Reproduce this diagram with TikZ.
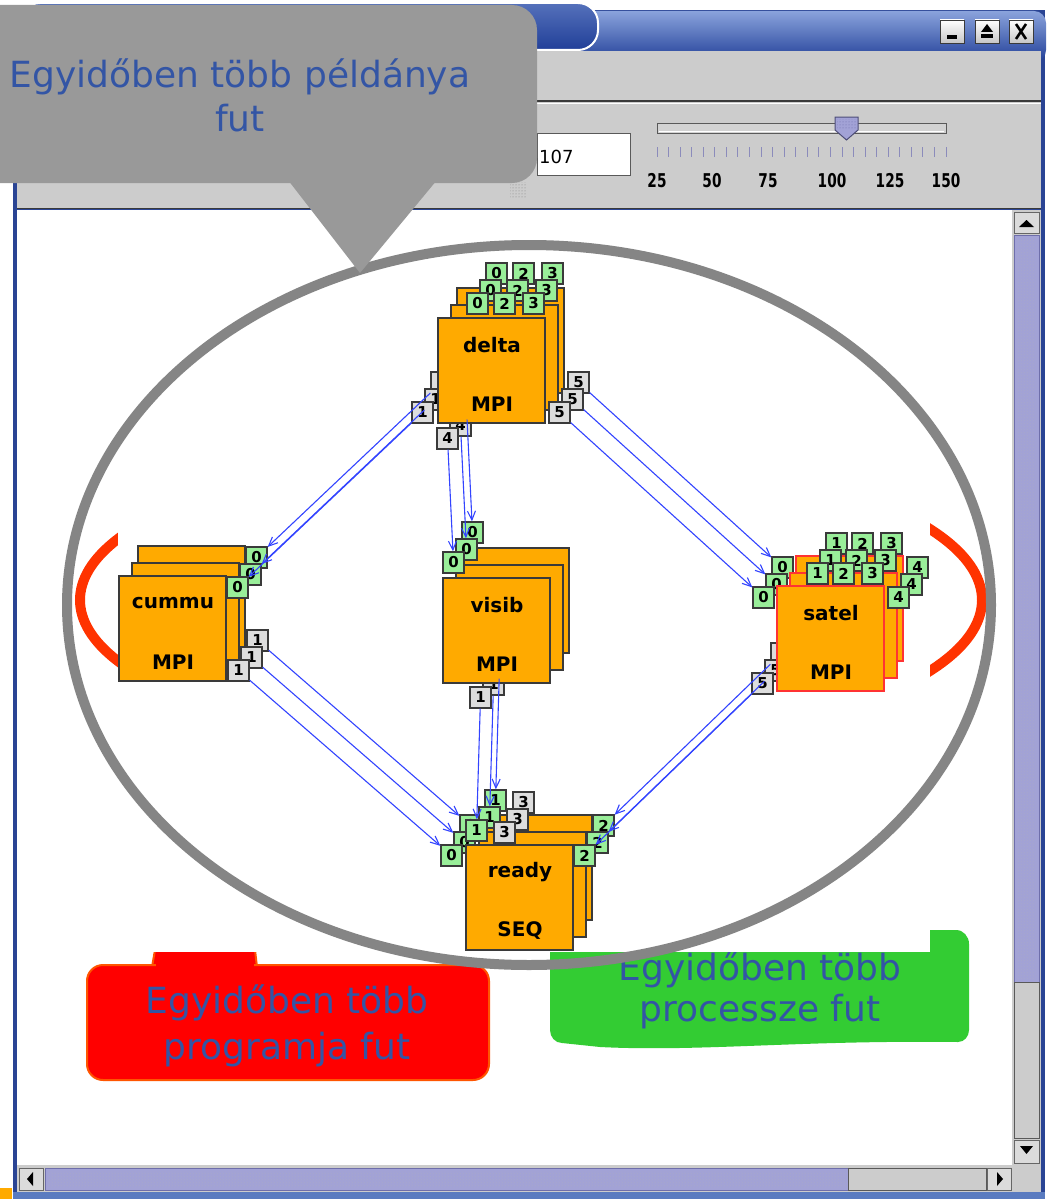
\documentclass[tikz,border=0pt]{standalone}
\usepackage{fontspec}
\usepackage{graphicx}
\setmainfont{DejaVu Sans}
\usetikzlibrary{arrows.meta,patterns}
\definecolor{callgray}{HTML}{999999}
\definecolor{txtblue}{HTML}{3355A5}
\definecolor{tbdark}{HTML}{213F98}
\definecolor{tblight}{HTML}{8AA3DC}
\definecolor{tabtop}{HTML}{5571BB}
\definecolor{panel}{HTML}{CCCCCC}
\definecolor{orng}{HTML}{FFAA00}
\definecolor{pgreen}{HTML}{99EE99}
\definecolor{pgray}{HTML}{DDDDDD}
\definecolor{edge}{HTML}{3A3A3A}
\definecolor{selred}{HTML}{FF3333}
\definecolor{arrblue}{HTML}{3344FF}
\definecolor{callred}{HTML}{FF0000}
\definecolor{callredb}{HTML}{FF5500}
\definecolor{callgreen}{HTML}{33CC33}
\definecolor{ellgray}{HTML}{858585}
\definecolor{ellred}{HTML}{FF3300}
\definecolor{lav}{HTML}{A2A2D6}
\definecolor{lavb}{HTML}{6E6EAA}
\definecolor{winedge}{HTML}{2A4494}
\definecolor{strip}{HTML}{5A7BC0}
\tikzset{
  procbox/.style={draw=edge, fill=orng, line width=1.5pt, minimum width=107pt, minimum height=105pt, inner sep=0pt},
  port/.style={draw=edge, line width=1.3pt, minimum size=21pt, inner sep=0pt, font=\fontsize{15}{15}\selectfont\bfseries},
  plbl/.style={font=\fontsize{20}{20}\selectfont\bfseries, inner sep=0pt},
  conn/.style={arrblue, line width=1.1pt, -{Straight Barb[length=9pt,width=8pt]}},
  calltxt/.style={txtblue, font=\fontsize{36}{36}\selectfont, anchor=base, inner sep=0pt},
  sbtn/.style={fill=panel!70!white, draw=gray!80!black, line width=0.8pt},
  thumb/.style={fill=lav, draw=lavb, line width=1pt},
  tbtn/.style={top color=white, bottom color=gray!45, draw=edge, line width=0.8pt},
  slbl/.style={font=\fontsize{19}{19}\selectfont\bfseries, inner sep=0pt},
}
% #1 name, #2 x, #3 y (front top-left), #4 border, #5 ports, #6 name label, #7 type label
\newcommand\procnode[7]{%
  \foreach \ddx/\ddy/\lay in {19/-30/2,13/-13/1,0/0/0}{%
    \begin{scope}[shift={(\ddx,\ddy)}]
      \node[procbox,draw=#4] (#1-sq-\lay) at (#2+53.5,#3+52.5) {};
      \foreach \ppx/\ppy/\pcol/\pname in {#5}{%
        \node[port,fill=\pcol] (#1-\pname-\lay) at (\ppx+10.5,\ppy+10.5) {\pname};
      }
    \end{scope}
  }
  \node[plbl] (#1-name) at (#2+54,#3+27) {#6};
  \node[plbl] (#1-type) at (#2+54,#3+86) {#7};
}
\begin{document}
\begin{tikzpicture}[x=1pt,y=-1pt]
\useasboundingbox (0,0) rectangle (1050,1199);
\clip (0,0) rectangle (1050,1199);
\fill[white] (0,0) rectangle (1050,1199);

% ---- window frame ----
\fill[winedge] (13,10) rectangle (1045,1199);
\shade[top color=tblight, bottom color=tbdark, rounded corners=12pt] (13,11) rectangle (1046,62);
\shade[top color=tabtop, bottom color=tbdark, draw=white, line width=2pt, rounded corners=20pt] (20,3) rectangle (598,50);
\node[tbtn, minimum width=24pt, minimum height=23pt, inner sep=0pt] (bmin) at (952,31.5) {};
\node[tbtn, minimum width=24pt, minimum height=23pt, inner sep=0pt] (bmax) at (987,31.5) {};
\node[tbtn, minimum width=24pt, minimum height=23pt, inner sep=0pt] (bcls) at (1021,31.5) {};
\fill (947,35) rectangle (957,39);
\fill (981,34) rectangle (993,38);
\fill (981,32) -- (993,32) -- (987,24) -- cycle;
\draw[line width=2.6pt] (1016,24) -- (1026,39) (1026,24) -- (1016,39);

\fill[panel] (17,51) rectangle (1041,209);
\draw[edge, line width=1.5pt] (17,101) -- (1041,101);
\draw[white, line width=1pt] (17,103) -- (1041,103);
\draw[edge, line width=1.5pt] (17,208.5) -- (1041,208.5);

% text field and slider
\filldraw[fill=white, draw=gray!70!black, line width=1pt] (537,133) rectangle (630,175);
\node[anchor=west, inner sep=0pt, font=\fontsize{18}{18}\selectfont] (val) at (539,157) {107};
\fill[pattern=dots, pattern color=gray] (510,182) rectangle (527,197);
\filldraw[fill=gray!35, draw=gray!70!black, line width=1pt] (657,123) rectangle (946,133);
\draw[white, line width=1pt] (659,131) -- (944,131);
\foreach \i in {0,...,25}{\draw[lavb!80, line width=0.9pt] (657+\i*11.56,147) -- ++(0,10);}
\filldraw[fill=lav, draw=lavb!70!black, line width=1pt] (835,117) -- (858,117) -- (858,130) -- (846.5,140) -- (835,130) -- cycle;
\fill[pattern=dots, pattern color=lavb] (837,119) rectangle (856,129);
\foreach \v/\xx in {25/657,50/712,75/768,100/832,125/890,150/946}{\node[slbl] at (\xx,181) {\scalebox{0.72}[1]{\v}};}

% canvas
\fill[white] (17,210) rectangle (1012,1165);

% scrollbars
\fill[panel] (1012,210) rectangle (1041,1192);
\fill[panel] (17,1165) rectangle (1041,1192);
\filldraw[sbtn] (1014,212) rectangle (1039,233);
\fill (1019,227) -- (1034,227) -- (1026.5,220) -- cycle;
\filldraw[thumb] (1014,235) rectangle (1039,982);
\fill[pattern=crosshatch dots, pattern color=lavb!60] (1017,238) rectangle (1036,979);
\draw[gray!70!black, line width=1pt] (1014,982) rectangle (1039,1138);
\filldraw[sbtn] (1014,1140) rectangle (1039,1163);
\fill (1020,1146) -- (1033,1146) -- (1026.5,1154) -- cycle;
\filldraw[sbtn] (19,1168) rectangle (43,1190);
\fill (27,1179) -- (33,1172) -- (33,1186) -- cycle;
\filldraw[thumb] (45,1168) rectangle (848,1190);
\fill[pattern=crosshatch dots, pattern color=lavb!60] (48,1171) rectangle (845,1187);
\draw[gray!70!black, line width=1pt] (848,1168) rectangle (986,1190);
\filldraw[sbtn] (987,1168) rectangle (1011,1190);
\fill (1003,1179) -- (997,1172) -- (997,1186) -- cycle;
\fill[strip] (13,1192) rectangle (1045,1199);
\fill[orng] (0,1188) rectangle (12,1199);

% ---- slide annotations underneath the diagram image ----
\draw[ellred, line width=10pt] (531,600) ellipse [x radius=451pt, y radius=152pt];
\fill[callgreen] (550,930) -- (956,930) to[out=0,in=90] (969,944) -- (969,1030) to[out=-90,in=0] (958,1042)
   .. controls (800,1040) and (700,1052) .. (600,1047) -- (562,1043) to[out=180,in=-90] (550,1030) -- cycle;
\node[calltxt] (g1) at (760,980) {Egyidőben több};
\node[calltxt] (g2) at (760,1021) {processze fut};
\filldraw[fill=callred, draw=callredb, line width=2pt] (155,950) -- (255,950) -- (257,967) -- (152,967) -- cycle;
\filldraw[fill=callred, draw=callredb, line width=2pt, rounded corners=16pt] (87,965) rectangle (489,1080);
\fill[callred] (156,960) rectangle (254,968);
\node[calltxt] (r1) at (287,1013) {Egyidőben több};
\node[calltxt] (r2) at (287,1059) {programja fut};

% diagram image region
\fill[white] (118,215) rectangle (930,952);

% ---- process nodes ----
\procnode{delta}{438}{318}{edge}{467/293/pgreen/0,494/293/pgreen/2,523/293/pgreen/3,412/402/pgray/1,437/428/pgray/4,549/402/pgray/5}{delta}{MPI}
\procnode{cummu}{119}{576}{edge}{227/577/pgreen/0,228/660/pgray/1}{cummu}{MPI}
\procnode{visib}{443}{578}{edge}{443/552/pgreen/0,470/687/pgray/1}{visib}{MPI}
\procnode{satel}{777}{586}{selred}{753/587/pgreen/0,807/563/pgreen/1,833/563/pgreen/2,862/563/pgreen/3,888/587/pgreen/4,752/673/pgray/5}{satel}{MPI}
\procnode{ready}{466}{845}{edge}{441/845/pgreen/0,466/820/pgreen/1,494/822/pgray/3,574/845/pgreen/2}{ready}{SEQ}

% ---- connectors ----
\foreach \lay in {0,1,2}{
  \draw[conn] (delta-1-\lay) -- (cummu-0-\lay);
  \draw[conn] (delta-4-\lay) -- (visib-0-\lay);
  \draw[conn] (delta-5-\lay) -- (satel-0-\lay);
  \draw[conn] (cummu-1-\lay) -- (ready-0-\lay);
  \draw[conn] (visib-1-\lay) -- (ready-1-\lay);
  \draw[conn] (satel-5-\lay) -- (ready-2-\lay);
}

% big gray ellipse
\draw[ellgray, line width=10pt] (529,605) ellipse [x radius=462pt, y radius=360pt];

% gray callout
\fill[callgray, rounded corners=25pt] (-40,5) rectangle (537,183);
\fill[callgray] (288,180) -- (437,180) -- (360,273) -- cycle;
\node[calltxt] (c1) at (240,87) {Egyidőben több példánya};
\node[calltxt] (c2) at (240,131) {fut};
\end{tikzpicture}
\end{document}
